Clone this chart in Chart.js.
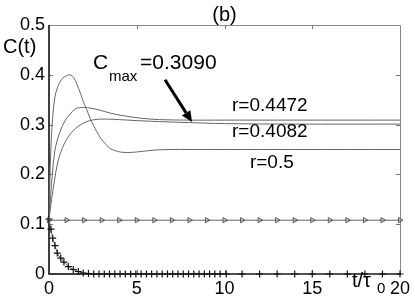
<!DOCTYPE html>
<html>
<head>
<meta charset="utf-8">
<script src="https://cdn.jsdelivr.net/npm/chart.js@4.4.1/dist/chart.umd.min.js"></script>
<style>
  html, body { margin: 0; padding: 0; background: #fff; }
  #wrap { width: 415px; height: 305px; }
</style>
</head>
<body>
<div id="wrap"><canvas id="c" width="415" height="305"></canvas></div>
<script>
// ---- data ----
const tR05 = [0,0.05,0.1,0.2,0.34,0.5,0.63,0.8,1.0,1.2,1.4,1.58,1.8,1.96,2.15,2.34,2.53,2.72,2.9,3.1,3.3,3.48,3.75,4.05,4.5,5,5.5,6.1,7,8,10,14,20];
const cR05 = [0.11,0.19,0.245,0.31,0.356,0.376,0.386,0.394,0.398,0.400,0.395,0.382,0.362,0.346,0.33,0.313,0.299,0.286,0.275,0.266,0.258,0.252,0.248,0.245,0.244,0.245,0.247,0.249,0.25,0.25,0.25,0.25,0.25];

const tR4472 = [0,0.1,0.2,0.34,0.5,0.63,0.9,1.2,1.48,1.77,2.2,2.9,3.5,4.05,5.2,6.3,8,10,14,20];
const cR4472 = [0.11,0.16,0.205,0.249,0.272,0.286,0.307,0.321,0.331,0.334,0.334,0.329,0.323,0.319,0.313,0.310,0.309,0.309,0.309,0.309];

const tR4082 = [0,0.15,0.3,0.5,0.72,1.0,1.38,1.96,2.6,3.3,4,5,6.3,8,10,14,20];
const cR4082 = [0.11,0.15,0.185,0.225,0.249,0.27,0.288,0.303,0.310,0.311,0.310,0.308,0.306,0.304,0.302,0.301,0.301];

const tTri = [0,1,2,3,4,5,6,7,8,9,10,11,12,13,14,15,16,17,18,19,20];
const cTri = [0.108,0.108,0.108,0.108,0.108,0.108,0.108,0.108,0.108,0.108,0.108,0.108,0.108,0.108,0.108,0.108,0.108,0.108,0.108,0.108,0.108];

const tPlus = [0,0.11,0.21,0.34,0.47,0.67,0.85,1.1,1.38,1.67,1.95,2.25,2.55,2.85,3.15,3.45,3.75,4.05,4.35,4.65,4.95,5.25,5.55,5.85,6.15,6.45,6.75,7.05,7.35,7.65,7.95,8.25,8.55,8.85,9.15,9.45,9.75,10.1,11,12,13,14,15,16,17,18,19,20];
const cPlus = [0.11,0.090,0.072,0.057,0.042,0.032,0.024,0.015,0.009,0.005,0.002,0.001,0,0,0,0,0,0,0,0,0,0,0,0,0,0,0,0,0,0,0,0,0,0,0,0,0,0,0,0,0,0,0,0,0,0,0,0];

const xTicks = [0,5,10,15,20];
const yTicks = [0,0.1,0.2,0.3,0.4,0.5];

const pts = (xs, ys) => xs.map((x, i) => ({x: x, y: ys[i]}));
const GREY = '#666';
const FONT = '"Liberation Sans", Arial, sans-serif';

const framePlugin = {
  id: 'frame',
  beforeDatasetsDraw(chart) {
    const {ctx, chartArea: a, scales: {x, y}} = chart;
    ctx.save();
    ctx.lineWidth = 1;
    ctx.strokeStyle = '#888';
    ctx.beginPath();
    ctx.moveTo(a.left, a.top + 0.5); ctx.lineTo(a.right + 0.5, a.top + 0.5);
    ctx.lineTo(a.right + 0.5, a.bottom);
    ctx.stroke();
    ctx.strokeStyle = '#777';
    ctx.beginPath();
    xTicks.slice(1, -1).forEach(v => {
      const px = Math.round(x.getPixelForValue(v)) + 0.5;
      ctx.moveTo(px, a.bottom); ctx.lineTo(px, a.bottom - 4);
      ctx.moveTo(px, a.top); ctx.lineTo(px, a.top + 4);
    });
    yTicks.slice(1, -1).forEach(v => {
      const py = Math.round(y.getPixelForValue(v)) + 0.5;
      ctx.moveTo(a.left, py); ctx.lineTo(a.left + 4, py);
      ctx.moveTo(a.right, py); ctx.lineTo(a.right - 4, py);
    });
    ctx.stroke();
    ctx.strokeStyle = '#000';
    ctx.lineWidth = 1.5;
    ctx.beginPath();
    ctx.moveTo(a.left, a.top); ctx.lineTo(a.left, a.bottom); ctx.lineTo(a.right + 1, a.bottom);
    ctx.stroke();
    ctx.restore();
  },
  afterDraw(chart) {
    const {ctx, scales: {x, y}} = chart;
    const X = v => x.getPixelForValue(v);
    const Y = v => y.getPixelForValue(v);
    ctx.save();
    ctx.fillStyle = '#000';
    ctx.textBaseline = 'alphabetic';
    ctx.font = '20px ' + FONT;
    ctx.textAlign = 'center';
    ctx.fillText('(b)', X(10), Y(0.508));
    ctx.textAlign = 'left';
    ctx.fillText('C(t)', X(-2.62), Y(0.444));
    ctx.font = '21px ' + FONT;
    ctx.fillText('C', X(2.51), Y(0.412));
    ctx.font = '15px ' + FONT;
    ctx.fillText('max', X(3.42), Y(0.388));
    ctx.font = '21px ' + FONT;
    ctx.fillText('=0.3090', X(5.19), Y(0.412));
    const x1 = X(6.61), y1 = Y(0.390), x2 = X(8.15), y2 = Y(0.305);
    const ang = Math.atan2(y2 - y1, x2 - x1);
    const hl = 11, hw = 5;
    const bx = x2 - hl * Math.cos(ang), by = y2 - hl * Math.sin(ang);
    ctx.strokeStyle = '#000';
    ctx.lineWidth = 3;
    ctx.beginPath(); ctx.moveTo(x1, y1); ctx.lineTo(bx, by); ctx.stroke();
    ctx.beginPath();
    ctx.moveTo(x2, y2);
    ctx.lineTo(bx + hw * Math.sin(ang), by - hw * Math.cos(ang));
    ctx.lineTo(bx - hw * Math.sin(ang), by + hw * Math.cos(ang));
    ctx.closePath(); ctx.fill();
    ctx.font = '19px ' + FONT;
    ctx.fillText('r=0.4472', X(10.43), Y(0.327));
    ctx.fillText('r=0.4082', X(10.43), Y(0.275));
    ctx.fillText('r=0.5', X(11.45), Y(0.213));
    ctx.font = '20px ' + FONT;
    ctx.fillText('t/\u03C4', X(17.26), Y(-0.026));
    ctx.font = '15px ' + FONT;
    ctx.fillText('0', X(18.69), Y(-0.038));
    ctx.restore();
  }
};

const lineDS = (label, xs, ys) => ({
  label, data: pts(xs, ys), showLine: true, borderColor: GREY, borderWidth: 1,
  pointRadius: 0, tension: 0.35, fill: false
});

new Chart(document.getElementById('c'), {
  type: 'scatter',
  data: {
    datasets: [
      lineDS('r=0.5', tR05, cR05),
      lineDS('r=0.4472', tR4472, cR4472),
      lineDS('r=0.4082', tR4082, cR4082),
      {
        label: 'tri', data: pts(tTri, cTri), showLine: true, borderColor: GREY, borderWidth: 1,
        pointStyle: 'triangle', rotation: 90, pointRadius: 3, pointBorderColor: '#555',
        pointBackgroundColor: 'rgba(0,0,0,0)', pointBorderWidth: 1, clip: false
      },
      {
        label: 'plus', data: pts(tPlus, cPlus), showLine: true, borderColor: GREY, borderWidth: 1,
        pointStyle: 'cross', pointRadius: 3.5, pointBorderColor: '#111', pointBorderWidth: 1.2,
        cubicInterpolationMode: 'monotone', clip: false
      }
    ]
  },
  options: {
    responsive: false,
    animation: false,
    layout: { padding: { top: 25, right: 15, left: 0, bottom: 0 } },
    plugins: { legend: { display: false }, tooltip: { enabled: false } },
    scales: {
      x: {
        type: 'linear', min: 0, max: 20,
        afterFit(s) { s.height = 31; },
        afterBuildTicks(s) { s.ticks = xTicks.map(v => ({value: v})); },
        grid: { display: false, drawTicks: false },
        border: { display: false },
        ticks: { color: '#000', font: { family: FONT, size: 18 }, padding: 4, maxRotation: 0,
                 callback: v => String(v) }
      },
      y: {
        type: 'linear', min: 0, max: 0.5,
        afterFit(s) { s.width = 49; },
        afterBuildTicks(s) { s.ticks = yTicks.map(v => ({value: v})); },
        grid: { display: false, drawTicks: false },
        border: { display: false },
        ticks: { color: '#000', font: { family: FONT, size: 18 }, padding: 4,
                 callback: v => (v === 0 ? '0' : Number(v).toFixed(1)) }
      }
    }
  },
  plugins: [framePlugin]
});
</script>
</body>
</html>
